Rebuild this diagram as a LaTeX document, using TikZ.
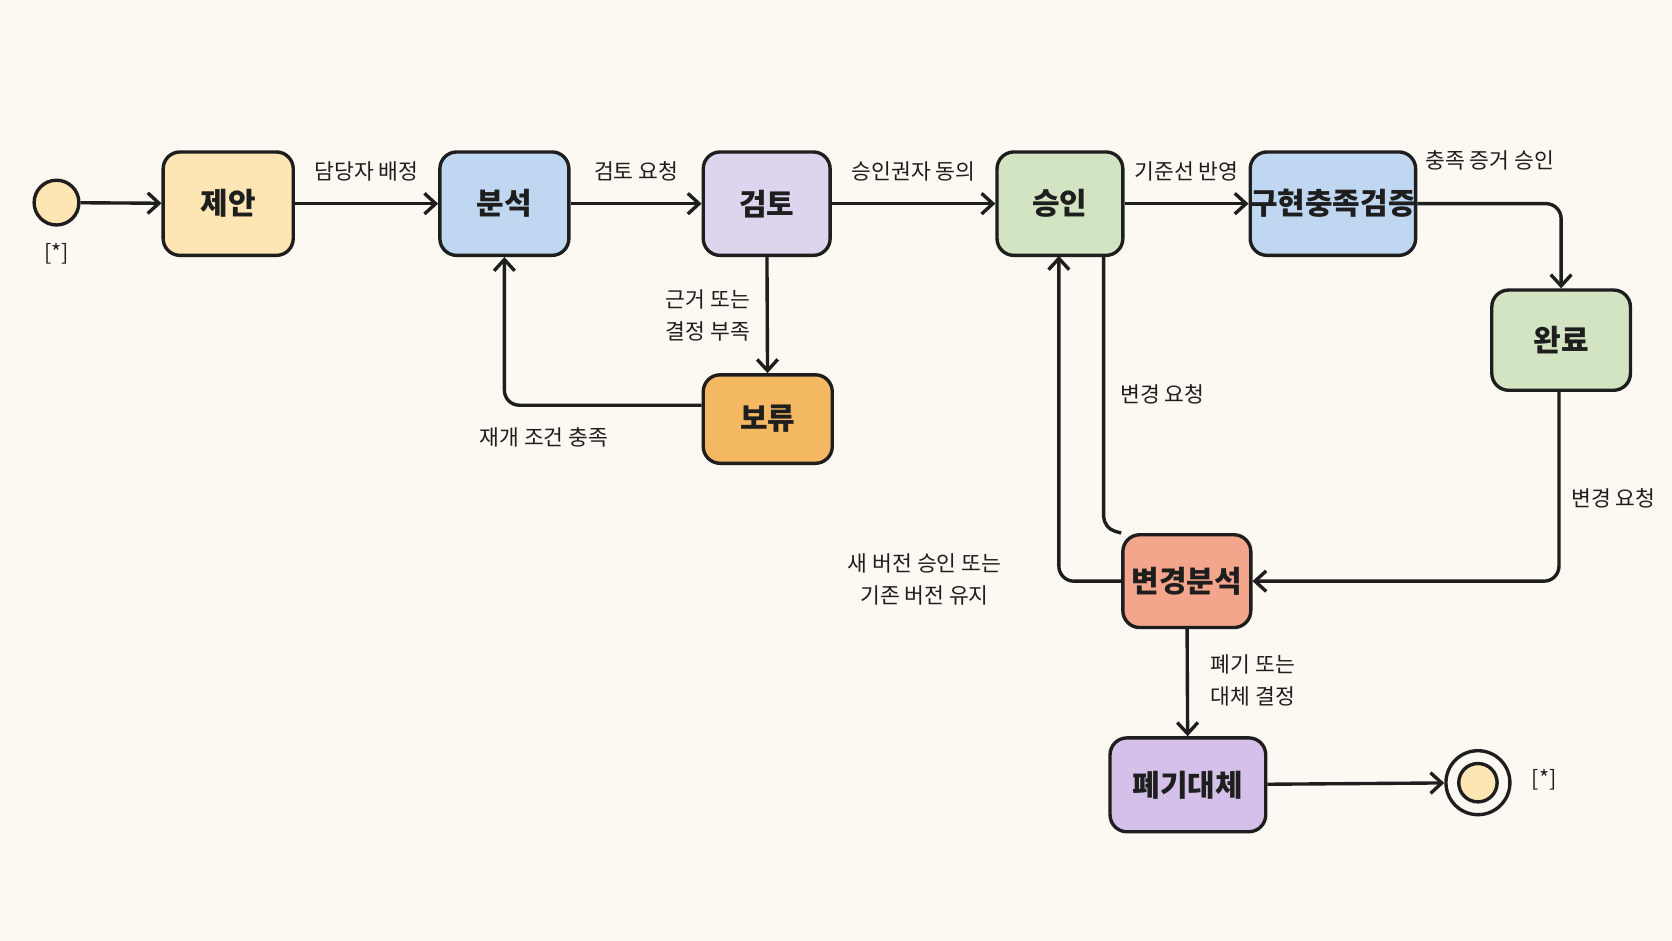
\documentclass[tikz,border=0pt]{standalone}
\usepackage{fontspec}
\setmainfont{Noto Sans CJK KR}
\usetikzlibrary{arrows.meta}
\definecolor{bg}{HTML}{FCF8F2}
\definecolor{cy}{HTML}{FDE6B3}
\definecolor{cb}{HTML}{BFD7F0}
\definecolor{cl}{HTML}{DDD5EE}
\definecolor{cg}{HTML}{D3E4C3}
\definecolor{co}{HTML}{F5B862}
\definecolor{cs}{HTML}{F4A68C}
\definecolor{cp}{HTML}{D4C0E8}
\definecolor{ink}{HTML}{1E1E1E}
\tikzset{
  st/.style={draw=ink,line width=1.8pt,rounded corners=9pt,font=\fontsize{16}{18}\selectfont\bfseries,text=ink,inner sep=0pt},
  ar/.style={draw=ink,line width=1.8pt,-{Straight Barb[length=6pt,width=11pt,line width=1.8pt]},rounded corners=8pt},
  lb/.style={font=\fontsize{11.5}{17}\selectfont,text=ink,align=center}
}
\begin{document}
\begin{tikzpicture}[x=0.02cm,y=-0.02cm]
\fill[bg] (0,0) rectangle (1568,882);
\useasboundingbox (0,0) rectangle (1568,882);
\node[circle,draw=ink,line width=1.8pt,fill=cy,minimum size=42*0.02cm,inner sep=0pt] (s) at (53,190) {};
\node[lb] (sl) at (53,238) {[*]};
\node[st,fill=cy,minimum width=122*0.02cm,minimum height=97*0.02cm] (a) at (214,191) {제안};
\node[st,fill=cb,minimum width=121*0.02cm,minimum height=97*0.02cm] (b) at (473,191) {분석};
\node[st,fill=cl,minimum width=119*0.02cm,minimum height=97*0.02cm] (c) at (719,191) {검토};
\node[st,fill=cg,minimum width=118*0.02cm,minimum height=97*0.02cm] (d) at (994,191) {승인};
\node[st,fill=cb,minimum width=147*0.02cm,minimum height=97*0.02cm] (e) at (1250,191) {구현충족검증};
\node[st,fill=cg,minimum width=130*0.02cm,minimum height=94*0.02cm] (f) at (1464,319) {완료};
\node[st,fill=co,minimum width=121*0.02cm,minimum height=83*0.02cm] (g) at (720,393) {보류};
\node[st,fill=cs,minimum width=120*0.02cm,minimum height=87*0.02cm] (h) at (1113,545) {변경분석};
\node[st,fill=cp,minimum width=146*0.02cm,minimum height=88*0.02cm] (i) at (1114,736) {폐기대체};
\node[circle,draw=ink,line width=1.8pt,fill=bg,minimum size=60*0.02cm,inner sep=0pt] (z) at (1386,734) {};
\node[circle,draw=ink,line width=1.8pt,fill=cy,minimum size=36*0.02cm,inner sep=0pt] (zi) at (1386,734) {};
\node[lb] (zl) at (1448,731) {[*]};
\draw[ar] (s) -- (a);
\draw[ar] (a) -- node[lb,above=8pt]{담당자 배정} (b);
\draw[ar] (b) -- node[lb,above=8pt]{검토 요청} (c);
\draw[ar] (c) -- node[lb,above=8pt]{승인권자 동의} (d);
\draw[ar] (d) -- node[lb,above=8pt]{기준선 반영} (e);
\draw[ar] (e.east) -- (1464,191) -- (f.north);
\node[lb] (l1) at (1397,150) {충족 증거 승인};
\draw[ar] (c) -- (g);
\node[lb] (l2) at (664,296) {근거 또는\\결정 부족};
\draw[ar] (g.west |- 0,380) -- (473,380) -- (b.south);
\node[lb] (l3) at (510,410) {재개 조건 충족};
\draw[draw=ink,line width=1.8pt,rounded corners=6pt] (1035,240) -- (1035,495) -- (h.north west);
\node[lb] (l4) at (1090,370) {변경 요청};
\draw[ar] (h.west) -- (993,545) -- (993,240);
\node[lb] (l5) at (867,543) {새 버전 승인 또는\\기존 버전 유지};
\draw[ar] (1462,366) -- (1462,545) -- (h.east);
\node[lb] (l6) at (1513,467) {변경 요청};
\draw[ar] (h) -- (i);
\node[lb] (l7) at (1175,638) {폐기 또는\\대체 결정};
\draw[ar] (i) -- (z);
\end{tikzpicture}
\end{document}
